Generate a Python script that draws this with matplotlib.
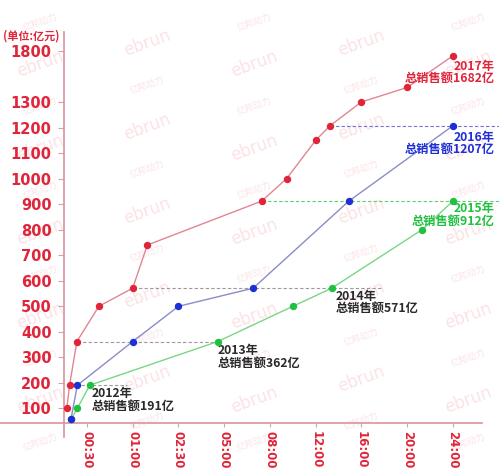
"""
Tmall Double 11 cumulative sales, 2015-2017, with earlier yearly totals as guides
"""
import numpy as np
import matplotlib.pyplot as plt

plt.rcParams['font.family'] = ['DejaVu Sans', 'Noto Sans CJK SC']

# hours after midnight / cumulative sales (亿元)
hours_2017 = [0.06, 0.12, 0.28, 0.63, 1.0, 1.48, 7.46, 9.46, 12.0, 13.25, 16.0, 20.0, 24.0]
sales_2017 = [100, 191, 362, 500, 571, 740, 912, 1000, 1150, 1207, 1300, 1420, 1682]
hours_2016 = [0.15, 0.29, 1.0, 2.5, 6.9, 14.9, 24.0]
sales_2016 = [57, 191, 362, 500, 571, 912, 1207]
hours_2015 = [0.15, 0.29, 0.53, 4.64, 10.0, 13.4, 21.3, 24.0]
sales_2015 = [57, 100, 191, 362, 500, 571, 800, 912]

tick_hours = [0.5, 1, 2.5, 5, 8, 12, 16, 20, 24]
tick_labels = ['00:30', '01:00', '02:30', '05:00', '08:00', '12:00', '16:00', '20:00', '24:00']
y_ticks = [100, 200, 300, 400, 500, 600, 700, 800, 900, 1000, 1100, 1200, 1300, 1800]

# yearly totals and the span of their dashed guide (hours)
guide_years = ['2012', '2013', '2014', '2015', '2016']
guide_totals = [191, 362, 571, 912, 1207]
guide_start = [0.12, 0.28, 1.0, 7.46, 13.25]
guide_end = [0.94, 4.64, 17.9, 28, 28]

RED = '#e0253a'
BLUE = '#1f2fd8'
GREEN = '#22c040'
GREY_TXT = '#2a2a2a'
guide_colors = ['#9a9a9a', '#9a9a9a', '#9a9a9a', '#5ccf6c', '#6f72d6']

# uneven time axis: ticks equally spaced
xa_h = [-1, 0, 0.5, 1, 2.5, 5, 8, 12, 16, 20, 24, 28]
xa_i = [-2.5, -0.5, 0, 1, 2, 3, 4, 5, 6, 7, 8, 9]
# value axis compressed above 1300
ya_v = [-500, 1300, 1682, 1800, 3000]
ya_p = [-500, 1300, 1481, 1500, 2700]


def main():
  fig = plt.figure(figsize=(4.99, 4.74), dpi=100)
  W, H = 499.0, 474.0

  # faint watermarks
  for col in range(5):
    for row in range(11):
      xp = 40 + 107 * col
      yp = 22 + 42 * row + (21 if col % 2 else 0)
      if yp > 455:
        continue
      if (row + col) % 2:
        fig.text(xp / W, 1 - yp / H, 'ebrun', fontsize=12, color='#fbe3e6',
                 rotation=20, ha='center', va='center', zorder=-1)
      else:
        fig.text(xp / W, 1 - yp / H, '亿邦动力', fontsize=6.5, color='#fbe3e6',
                 rotation=20, ha='center', va='center', zorder=-1,
                 family=['Noto Sans CJK SC'])

  ax = fig.add_axes([0, 37 / H, 482 / W, 405 / H])
  ax.patch.set_alpha(0)
  ax.set_xscale('function', functions=(lambda h: np.interp(h, xa_h, xa_i),
                                       lambda i: np.interp(i, xa_i, xa_h)))
  ax.set_yscale('function', functions=(lambda v: np.interp(v, ya_v, ya_p),
                                       lambda p: np.interp(p, ya_p, ya_v)))
  ax.set_xlim(-0.70, 26.54)
  ax.set_ylim(-11.6, 1874)

  for s in ['top', 'right']:
    ax.spines[s].set_visible(False)
  ax.spines['left'].set_position(('data', 0))
  ax.spines['bottom'].set_position(('data', 43))
  for s in ['left', 'bottom']:
    ax.spines[s].set_color('#d9949c')
    ax.spines[s].set_linewidth(1.2)

  for v, h0, h1, c in zip(guide_totals, guide_start, guide_end, guide_colors):
    ax.plot([h0, h1], [v, v], ls=(0, (3, 2)), lw=0.8, color=c, clip_on=False, zorder=1)

  ax.plot(hours_2015, sales_2015, '-', color='#7ad684', lw=1.0, zorder=2)
  ax.plot(hours_2015, sales_2015, 'o', color=GREEN, ms=4.3, zorder=4)
  ax.plot(hours_2016, sales_2016, '-', color='#8a8cc8', lw=1.0, zorder=2)
  ax.plot(hours_2016, sales_2016, 'o', color=BLUE, ms=4.3, zorder=4)
  ax.plot(hours_2017, sales_2017, '-', color='#e28592', lw=1.0, zorder=3)
  ax.plot(hours_2017, sales_2017, 'o', color=RED, ms=4.3, zorder=5)

  ax.set_yticks(y_ticks)
  ax.set_yticklabels([str(t) for t in y_ticks], fontsize=10.5, fontweight='bold', color=RED)
  ax.set_xticks(tick_hours)
  ax.set_xticklabels(tick_labels, rotation=-90, fontsize=8.5, fontweight='bold', color=RED)
  ax.tick_params(axis='y', length=4, width=0.8, color='#d9a0a6', pad=5)
  ax.tick_params(axis='x', length=3, width=0.8, color='#d9a0a6', pad=3)
  ax.minorticks_off()

  cjk = dict(family=['Noto Sans CJK SC'], fontsize=8.8, fontweight='bold',
             linespacing=0.9, textcoords='offset points', annotation_clip=False)
  ax.annotate('2012年\n总销售额191亿', xy=(0.53, 191), xytext=(1.5, -1.5),
              ha='left', va='top', color=GREY_TXT, **cjk)
  ax.annotate('2013年\n总销售额362亿', xy=(4.64, 362), xytext=(0, -2),
              ha='left', va='top', color=GREY_TXT, **cjk)
  ax.annotate('2014年\n总销售额571亿', xy=(13.4, 571), xytext=(3, -1.5),
              ha='left', va='top', color=GREY_TXT, **cjk)
  ax.annotate('2015年\n总销售额912亿', xy=(24, 912), xytext=(30, -1),
              ha='right', va='top', color=GREEN, **cjk)
  ax.annotate('2016年\n总销售额1207亿', xy=(24, 1207), xytext=(30, -3.5),
              ha='right', va='top', color=BLUE, **cjk)
  ax.annotate('2017年\n总销售额1682亿', xy=(24, 1682), xytext=(30, -3),
              ha='right', va='top', color=RED, **cjk)

  fig.text(60 / W, 1 - 36 / H, '(单位:亿元)', fontsize=8, fontweight='bold',
           color=RED, ha='right', va='center', family=['Noto Sans CJK SC'])

  fig.savefig('out.png', dpi=100)


if __name__ == '__main__':
  main()
